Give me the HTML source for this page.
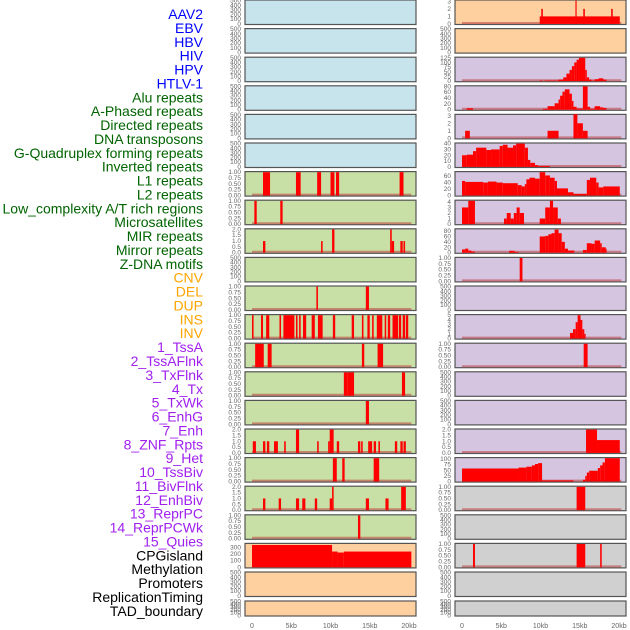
<!DOCTYPE html>
<html><head><meta charset="utf-8"><style>
html,body{margin:0;padding:0;background:#fff;}
svg{display:block;font-family:"Liberation Sans",sans-serif;}
</style></head><body>
<svg id="chart" width="630" height="630" viewBox="0 0 630 630"></svg>
<script>
// ---------- data ----------
const trackLabels = ["AAV2","EBV","HBV","HIV","HPV","HTLV-1","Alu repeats","A-Phased repeats","Directed repeats","DNA transposons","G-Quadruplex forming repeats","Inverted repeats","L1 repeats","L2 repeats","Low_complexity A/T rich regions","Microsatellites","MIR repeats","Mirror repeats","Z-DNA motifs","CNV","DEL","DUP","INS","INV","1_TssA","2_TssAFlnk","3_TxFlnk","4_Tx","5_TxWk","6_EnhG","7_Enh","8_ZNF_Rpts","9_Het","10_TssBiv","11_BivFlnk","12_EnhBiv","13_ReprPC","14_ReprPCWk","15_Quies","CPGisland","Methylation","Promoters","ReplicationTiming","TAD_boundary"];
const labelGroups = ["v","v","v","v","v","v","r","r","r","r","r","r","r","r","r","r","r","r","r","c","c","c","c","c","s","s","s","s","s","s","s","s","s","s","s","s","s","s","s","o","o","o","o","o"];
const xTicks = [0,5,10,15,20];
const xTickLabels = ["0","5kb","10kb","15kb","20kb"];

// left column panels: [start_kb, end_kb, value]
const L7 = [[1.4,2.3,1],[5.6,6.2,1],[8.3,8.8,1],[10.0,10.5,1],[10.7,11.1,1],[18.8,19.3,1]];
const L8 = [[0.3,0.6,1],[3.6,3.9,1]];
const L9 = [[1.4,1.7,1],[8.8,9.0,1],[10.2,10.5,2],[17.6,17.8,2],[17.8,18.1,1],[18.9,19.2,1],[19.3,19.5,1]];
const L11 = [[8.2,8.4,1],[14.5,14.9,1]];
const L12 = [[0,0.2,1],[1.15,1.4,1],[1.8,2.2,1],[3.5,3.7,1],[4.0,5.4,1],[5.6,5.8,1],[6.0,6.2,1],[6.5,6.9,1],[7.6,8.0,1],[8.4,9.0,1],[10.3,10.6,1],[12.7,13.0,1],[14.0,14.2,1],[14.7,15.0,1],[15.3,15.5,1],[15.9,16.6,1],[16.9,17.1,1],[17.3,17.6,1],[17.9,18.6,1],[18.7,19.0,1],[19.2,19.5,1],[19.6,19.9,1]];
const L13 = [[0.4,1.5,1],[2.0,2.5,1],[14.0,14.3,1],[16.0,16.7,1]];
const L14 = [[11.7,12.2,1],[12.2,13.0,1],[19.1,19.5,1]];
const L15 = [[14.5,14.9,1]];
const L16 = [[0.1,0.5,1],[1.4,1.7,1],[1.9,2.2,1],[2.8,3.3,1],[4.1,4.3,1],[5.6,6.0,2],[8.3,8.5,1],[9.7,9.9,1],[9.9,10.4,2],[10.8,11.1,1],[13.5,13.8,1],[13.9,14.1,1],[14.8,15.3,1],[15.5,15.8,1],[16.1,16.3,1],[18.2,18.5,1],[18.9,19.2,1],[19.3,19.6,1]];
const L17 = [[10.3,10.8,1],[11.5,11.8,1],[15.5,16.2,1]];
const L18 = [[1.4,1.7,1],[3.4,3.7,1],[5.6,6.0,1],[6.4,6.8,1],[8.0,8.3,1],[9.9,10.2,1],[10.2,10.4,2],[14.5,14.9,1],[17.0,17.4,1],[19.0,19.3,2],[19.3,19.6,2]];
const L19 = [[13.5,13.8,1]];
const L20 = [[0,10.2,340],[10.2,10.9,240],[10.9,11.7,225],[11.7,20.3,240]];

// right column panels
const R1 = [[9.9,20.1,1],[10.1,10.3,2],[14.45,14.6,3.1],[15.45,15.65,2],[19.0,19.2,2]];
const R3 = [[9.9,10.3,3],[10.5,12.3,3],[12.3,12.9,8],[12.9,13.3,20],[13.3,13.7,40],[13.7,14.0,60],[14.0,14.3,80],[14.3,14.6,100],[14.6,14.9,115],[14.9,15.7,125],[15.7,15.9,60],[15.9,16.2,20],[16.2,16.5,8],[16.5,16.9,3],[16.9,17.4,10],[17.4,18.0,15],[18.0,18.4,8]];
const R4 = [[0.6,1.4,5],[10.3,10.9,3],[10.9,11.8,12],[11.8,12.3,22],[12.3,12.5,35],[12.5,12.8,48],[12.8,13.1,62],[13.1,13.7,70],[13.7,14.0,55],[14.0,14.2,30],[14.2,14.6,10],[14.6,15.4,4],[15.4,16.0,80],[16.0,16.3,10],[16.3,16.9,3],[16.9,17.6,12],[17.6,18.0,8],[18.0,18.4,6]];
const R5 = [[0.4,1.0,1],[10.9,12.3,1],[14.2,14.7,3.2],[14.7,15.4,2],[15.4,16.0,1]];
const R6 = [[0,0.6,20],[0.6,1.4,21],[1.4,1.8,27],[1.8,3.1,33],[3.1,3.7,29],[3.7,4.8,30],[4.8,5.2,36],[5.2,5.8,38],[5.8,6.5,33],[6.5,6.9,37],[6.9,8.0,40],[8.0,8.4,33],[8.4,8.7,12],[8.7,9.3,7],[9.3,9.7,3],[9.7,11.2,1.5]];
const R7 = [[0,0.4,45],[0.4,2.7,42],[2.7,3.3,40],[3.3,4.4,43],[4.4,5.2,40],[5.2,7.1,38],[7.1,7.6,32],[7.6,8.0,28],[8.0,8.2,35],[8.2,8.6,50],[8.6,9.3,55],[9.3,9.9,52],[9.9,10.6,72],[10.6,11.2,62],[11.2,11.8,55],[11.8,12.1,45],[12.1,13.5,22],[13.5,14.2,10],[14.2,15.9,5],[15.9,16.3,48],[16.3,17.1,55],[17.1,17.4,40],[17.4,18.0,25],[18.0,20.1,28]];
const R8 = [[0,0.8,3],[0.8,1.65,4.2],[5.35,5.7,1],[5.7,6.2,2],[6.2,6.6,1],[6.6,6.96,2],[6.96,7.35,3],[7.35,7.9,2],[9.9,10.6,1],[10.6,11.2,3],[11.2,11.6,4.2],[11.6,12.2,3],[12.2,12.6,1]];
const R9 = [[0,0.4,12],[0.4,0.8,15],[0.8,1.2,8],[1.2,1.65,4],[6.0,6.7,7],[6.7,7.2,3],[9.9,10.6,60],[10.6,11.0,62],[11.0,11.4,68],[11.4,11.8,72],[11.8,12.3,85],[12.3,12.7,72],[12.7,13.1,40],[13.1,13.5,15],[13.5,14.3,8],[15.4,15.9,10],[15.9,16.5,35],[16.5,16.9,33],[16.9,17.6,45],[17.6,17.8,35],[17.8,18.3,20],[18.3,18.4,15]];
const R10 = [[7.35,7.7,1]];
const R12 = [[13.76,14.14,1.2],[14.14,14.48,2],[14.48,14.73,3.5],[14.73,15.1,5],[15.1,15.33,4],[15.33,15.58,2],[15.58,15.75,1]];
const R13 = [[15.5,16.0,1]];
const R16 = [[15.8,17.2,2],[17.2,20.1,1.1]];
const R17 = [[0,7.2,58],[7.2,8.2,62],[8.2,8.9,66],[8.9,9.3,72],[9.3,9.7,78],[9.7,10.2,82],[10.2,14.2,5],[15.4,15.7,8],[15.7,15.9,25],[15.9,16.2,40],[16.2,17.3,48],[17.3,17.6,60],[17.6,17.9,72],[17.9,18.2,85],[18.2,20.1,104]];
const R18 = [[14.6,15.7,1]];
const R20 = [[1.4,1.65,1],[14.6,15.7,1],[17.6,17.8,1]];

// tick sets
const T500 = [0,100,200,300,400,500];
const T1 = [0,0.25,0.5,0.75,1];
const T2 = [0,0.5,1,1.5,2];

// ---------- layout ----------
const BLUE="#c7e3ec", GREEN="#c8e0a5", PEACH="#fecf9f", PURP="#d5c5e1", GRAY="#d0d0d0";
const E = null;
const leftPanels = [
 [BLUE,E,500,T500],[BLUE,E,500,T500],[BLUE,E,500,T500],[BLUE,E,500,T500],[BLUE,E,500,T500],[BLUE,E,500,T500],
 [GREEN,L7,1,T1],[GREEN,L8,1,T1],[GREEN,L9,2,T2],[GREEN,E,500,T500],[GREEN,L11,1,T1],[GREEN,L12,1,T1],
 [GREEN,L13,1,T1],[GREEN,L14,1,T1],[GREEN,L15,1,T1],[GREEN,L16,2,T2],[GREEN,L17,1,T1],[GREEN,L18,2,T2],
 [GREEN,L19,1,T1],[PEACH,L20,355,[0,100,200,300]],[PEACH,E,500,T500],[PEACH,E,500,T500]];
const rightPanels = [
 [PEACH,R1,3.1,[0,1,2,3]],[PEACH,E,500,T500],[PURP,R3,125,[0,25,50,75,100,125]],[PURP,R4,80,[0,20,40,60,80]],
 [PURP,R5,3.1,[0,1,2,3]],[PURP,R6,40,[0,10,20,30,40]],[PURP,R7,72,[0,20,40,60]],[PURP,R8,4.2,[0,1,2,3,4]],
 [PURP,R9,86,[0,20,40,60,80]],[PURP,R10,1,T1],[PURP,E,500,T500],[PURP,R12,5,[0,1,2,3,4,5]],
 [PURP,R13,1,T1],[PURP,E,500,T500],[PURP,E,500,T500],[PURP,R16,2,T2],[PURP,R17,104,[0,25,50,75,100]],
 [GRAY,R18,1,T1],[GRAY,E,500,T500],[GRAY,R20,1,T1],[GRAY,E,500,T500],[GRAY,E,500,T500]];

const NS="http://www.w3.org/2000/svg";
const svg=document.getElementById('chart');
function mk(tag,attrs,parent){const e=document.createElementNS(NS,tag);for(const k in attrs)e.setAttribute(k,attrs[k]);(parent||svg).appendChild(e);return e;}
function fmt(v,ticks){const dec=ticks.some(t=>t%1!==0&&(t*10)%1!==0)?2:(ticks.some(t=>t%1!==0)?1:0);return v.toFixed(dec);}

// labels
const groupColor={v:"#0000ff",r:"#006400",c:"#ffa500",s:"#a020f0",o:"#000000"};
trackLabels.forEach((t,i)=>{
  const el=mk('text',{x:203,y:14+i*13.88+5,'text-anchor':'end','font-size':'14',fill:groupColor[labelGroups[i]]});
  
  
  el.textContent=t;
});

function drawColumn(panels,x0,side){
  const W=171, zeroX=x0+7, kbPx=7.85;
  const xs=kb=>zeroX+kb*kbPx;
  panels.forEach((p,k)=>{
    const [bg,data,ymax,ticks]=p;
    const top=k<21?k*28.6:601, h=k<21?24.5:15, bot=top+h;
    const g=mk('g',{});
    
    
    mk('rect',{x:x0,y:top,width:W,height:h,fill:bg,stroke:'#555','stroke-width':1.2},g);
    const ys=v=>bot-0.6-(v/ymax)*(h-1.2);
    if(data){
      mk('line',{x1:xs(0),x2:xs(20.3),y1:bot-1.5,y2:bot-1.5,stroke:'rgba(190,60,60,0.55)','stroke-width':2},g);
      data.forEach((d,j)=>{
        const r=mk('rect',{x:xs(d[0]),y:ys(d[2]),width:Math.max(1,xs(d[1])-xs(d[0])),height:bot-0.6-ys(d[2]),fill:'#ff0000'},g);
        
        
      });
    }
    ticks.forEach(t=>{
      const tx=mk('text',{x:x0-4,y:ys(t)+2,'text-anchor':'end','font-size':'6.5',fill:'#666'},g);
      
      
      tx.textContent=fmt(t,ticks);
    });
  });
  xTicks.forEach((t,i)=>{
    const tx=mk('text',{x:xs(t),y:628,'text-anchor':'middle','font-size':'7',fill:'#666'});
    
    
    tx.textContent=xTickLabels[i];
  });
}
drawColumn(leftPanels,245,'left');
drawColumn(rightPanels,455,'right');
</script>
</body></html>
